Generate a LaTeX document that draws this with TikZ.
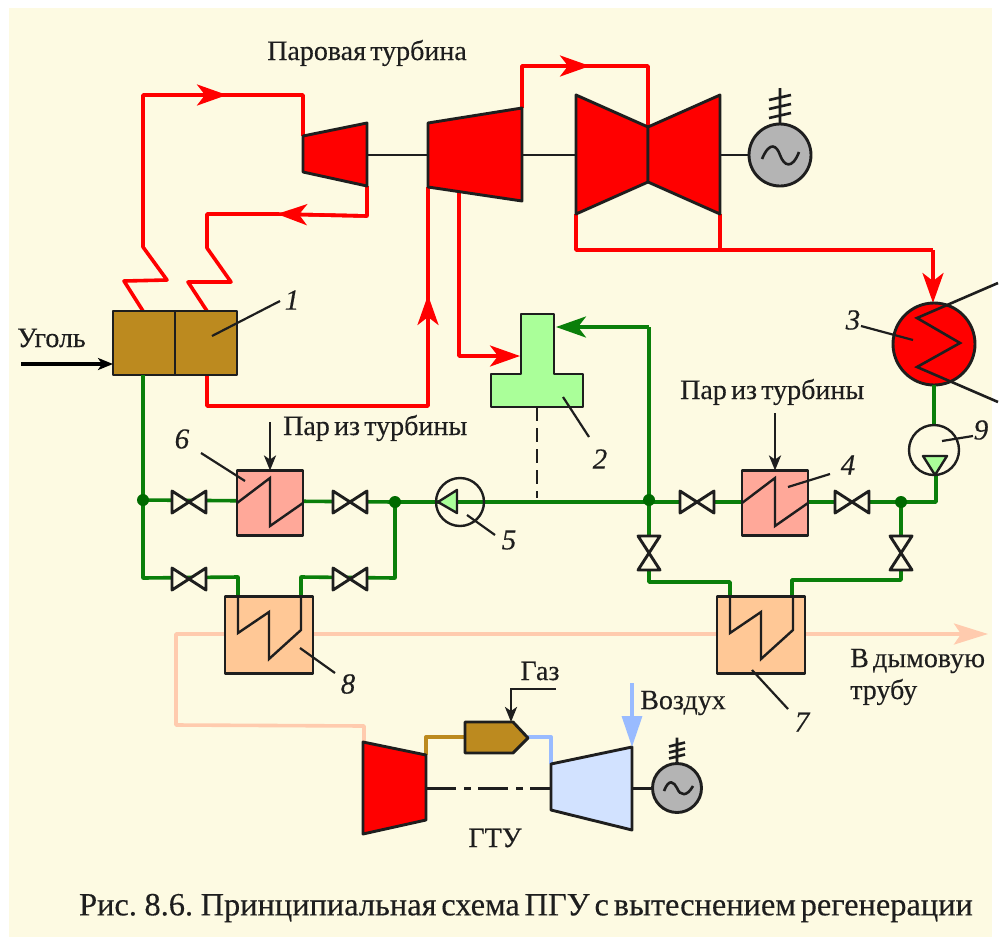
\documentclass[tikz,border=0pt]{standalone}
\usepackage{fontspec}
\setmainfont{Liberation Serif}
\newfontfamily\heavy{Liberation Serif}[FakeBold=0.3]
\newfontfamily\heavycap{Liberation Serif}[FakeBold=0.3,WordSpace=0.6]
\newfontfamily\heavyit{Liberation Serif Italic}[FakeBold=0.4]
\usetikzlibrary{arrows.meta}
\definecolor{cream}{HTML}{FDFAE2}
\definecolor{brownf}{HTML}{BC8A1F}
\definecolor{pipered}{HTML}{FF0000}
\definecolor{pipegreen}{HTML}{0A7F0A}
\definecolor{juncgreen}{HTML}{006A00}
\definecolor{deaer}{HTML}{AAFF99}
\definecolor{salmon}{HTML}{FFA899}
\definecolor{peach}{HTML}{FFC896}
\definecolor{flue}{HTML}{FFCBAE}
\definecolor{airblue}{HTML}{99BBFF}
\definecolor{compblue}{HTML}{D2E2FF}
\definecolor{gengray}{HTML}{B4B4B4}
\definecolor{ink}{HTML}{1E1E1E}
\tikzset{
 redpipe/.style={draw=pipered,line width=3.6pt,line join=round},
 greenpipe/.style={draw=pipegreen,line width=3.6pt,line join=round},
 fluepipe/.style={draw=flue,line width=3.6pt,line join=round},
 brownpipe/.style={draw=brownf,line width=3.4pt,line join=round},
 bluepipe/.style={draw=airblue,line width=3.4pt,line join=round},
 outline/.style={draw=ink,line width=2.9pt,line join=round},
 thin ink/.style={draw=ink,line width=2.4pt},
 leader/.style={draw=ink,line width=2.2pt},
 box/.style={outline,rectangle,inner sep=0pt,outer sep=0pt},
 disc/.style={outline,circle,inner sep=0pt,outer sep=0pt},
 junction/.style={circle,fill=juncgreen,minimum size=12pt,inner sep=0pt},
 lbl/.style={font=\fontsize{28}{32}\selectfont\heavy,inner sep=0pt,text=ink},
 num/.style={font=\fontsize{29}{32}\selectfont\heavyit,inner sep=0pt,text=ink},
 bigred/.style={-{Stealth[length=30pt,width=21pt,inset=8pt]}},
 bigair/.style={-{Stealth[length=31pt,width=20pt,inset=0pt]}},
 blk/.style={-{Stealth[length=15pt,width=12pt,inset=4pt]}},
 valve/.pic={\draw[outline,fill=cream] (-17,-11) -- (17,11) -- (17,-11) -- (-17,11) -- cycle;},
 ground/.pic={\draw[thin ink,line width=2.6pt] (0,0) -- (0,-36)
   (-11,-6) -- (11,-11) (-11,-15) -- (11,-20) (-11,-24) -- (11,-29);},
 smallground/.pic={\draw[thin ink,line width=2.6pt] (0,0) -- (0,-26)
   (-8,-5) -- (8,-9) (-8,-11) -- (8,-15) (-8,-17) -- (8,-21);},
}
\begin{document}
\begin{tikzpicture}[x=1pt,y=-1pt]
\useasboundingbox (0,0) rectangle (1001,937);
\fill[cream] (9,8) rectangle (992,937);

% ---- named points
\coordinate (a1) at (143,311); \coordinate (a2) at (124,281); \coordinate (a3) at (167,280);
\coordinate (a4) at (143,247); \coordinate (a5) at (143,95); \coordinate (a6) at (227,95);
\coordinate (a7) at (303,95);
\coordinate (b1) at (207,311); \coordinate (b2) at (188,282); \coordinate (b3) at (231,282);
\coordinate (b4) at (207,248); \coordinate (b5) at (207,214); \coordinate (b6) at (277,214);
\coordinate (b7) at (367,216);
\coordinate (hp1) at (303,136); \coordinate (hp2) at (367,123); \coordinate (hp3) at (367,186); \coordinate (hp4) at (303,172);
\coordinate (ip1) at (428,123); \coordinate (ip2) at (522,108); \coordinate (ip3) at (522,201); \coordinate (ip4) at (428,187);
\coordinate (lp1) at (576,95); \coordinate (lpt) at (648,127); \coordinate (lpb) at (648,182); \coordinate (lp2) at (576,214);
\coordinate (lp3) at (720,95); \coordinate (lp4) at (720,214);
\coordinate (c1) at (207,375); \coordinate (c2) at (207,406); \coordinate (c3) at (428,406); \coordinate (c4) at (428,295);
\coordinate (d1) at (459,193); \coordinate (d2) at (459,356); \coordinate (d3) at (520,356);
\coordinate (e1) at (522,66); \coordinate (e2) at (590,66); \coordinate (e3) at (648,66);
\coordinate (f1) at (576,250); \coordinate (f2) at (720,250); \coordinate (f3) at (933,250); \coordinate (f4) at (933,303);

% ---- flue gas
\coordinate (g1) at (364,742); \coordinate (g2) at (364,726); \coordinate (g3) at (176,725); \coordinate (g4) at (176,634);
\coordinate (g5) at (988,634);
\draw[fluepipe] (g1) -- (g2) -- (g3) -- (g4) -- (717,634);
\draw[fluepipe,-{Stealth[length=34pt,width=21pt,inset=7pt]}] (717,634) -- (g5);

% ---- steam lines
\draw[redpipe] (a1) -- (a2) -- (a3) -- (a4) -- (a5) -- (a6);
\draw[redpipe,bigred] (a5) -- (a6);
\draw[redpipe] (a6) -- (a7) -- (hp1);
\draw[redpipe] (b1) -- (b2) -- (b3) -- (b4) -- (b5) -- (b6);
\draw[redpipe] (b6) -- (b7) -- (hp3);
\draw[redpipe,bigred] (b7) -- (b6);
\draw[redpipe] (c1) -- (c2) -- (c3) -- (c4) -- (ip4);
\draw[redpipe,bigred] (c3) -- (c4);
\draw[redpipe,bigred] (d1) -- (d2) -- (d3);
\draw[redpipe] (ip2) -- (e1) -- (e3) -- (lpt);
\draw[redpipe,bigred] (e1) -- (e2);
\draw[redpipe] (lp2) -- (f1) -- (f3);
\draw[redpipe] (lp4) -- (f2);
\draw[redpipe,bigred] (f3) -- (f4);

% ---- turbines
\draw[thin ink] (hp2 |- 0,155) -- (ip1 |- 0,155);
\draw[thin ink] (ip2 |- 0,155) -- (lp1 |- 0,155);
\filldraw[outline,fill=pipered] (hp1) -- (hp2) -- (hp3) -- (hp4) -- cycle;
\filldraw[outline,fill=pipered] (ip1) -- (ip2) -- (ip3) -- (ip4) -- cycle;
\filldraw[outline,fill=pipered] (lp1) -- (lpt) -- (lpb) -- (lp2) -- cycle;
\filldraw[outline,fill=pipered] (lp3) -- (lpt) -- (lpb) -- (lp4) -- cycle;

% ---- generator
\node[disc,fill=gengray,minimum size=62pt] (gen1) at (780,155) {};
\draw[thin ink] (lp3 |- gen1) -- (gen1.west);
\pic at (gen1.north) {ground};
\draw[thin ink,line width=2.6pt] (762,159) .. controls (770,140) and (777,146) .. (780,155) .. controls (784,166) and (792,170) .. (799,152);

% ---- boiler
\node[box,fill=brownf,minimum width=124pt,minimum height=64pt] (boiler) at (175,343) {};
\draw[outline] (boiler.north) -- (boiler.south);
\draw[leader] (212,336) -- (280,301);
\node[num] (n1) at (292,300) {1};
\coordinate (coalin) at (21,364);
\draw[draw=black,line width=3.4pt,blk] (coalin) -- (boiler.west |- coalin);
\node[lbl,anchor=west] (ugol) at (17,338) {Уголь};

% ---- condenser
\coordinate (k1) at (998,283); \coordinate (k2) at (917,318); \coordinate (k3) at (960,343); \coordinate (k4) at (917,367); \coordinate (k5) at (998,402);
\node[disc,fill=pipered,minimum size=82pt] (cond) at (934,344) {};
\draw[thin ink,line width=2.6pt] (k1) -- (k2) -- (k3) -- (k4) -- (k5);
\node[num] (n3) at (853,320) {3};
\draw[leader] (861,326) -- (913,340);

% ---- deaerator
\draw[outline,fill=deaer] (521,314) -- (554,314) -- (554,374) -- (583,374) -- (583,407) -- (491,407) -- (491,374) -- (521,374) -- cycle;
\coordinate (dea) at (556,327);
\coordinate (dashend) at (537,498);
\draw[draw=ink,line width=2.8pt,dash pattern=on 14pt off 7pt] (537,407) -- (dashend);
\draw[leader] (563,397) -- (589,437);
\node[num] (n2) at (600,459) {2};

% ---- feedwater
\coordinate (wa) at (143,500); \coordinate (wb) at (143,578); \coordinate (wc) at (395,502); \coordinate (wd) at (395,578);
\coordinate (we) at (649,500); \coordinate (wf) at (901,502); \coordinate (wg) at (936,502);
\coordinate (wh) at (649,582); \coordinate (wi) at (730,582); \coordinate (wj) at (901,580); \coordinate (wk) at (792,580);
\coordinate (wl) at (238,577); \coordinate (wm) at (301,577); \coordinate (wn) at (649,327);
\draw[greenpipe] (boiler.south |- 0,375) ++(-32,0) -- (wb) -- (wl) -- (238,596);
\draw[greenpipe] (wa) -- (wc);
\draw[greenpipe] (301,596) -- (wm) -- (wd) -- (wc);
\draw[greenpipe] (wc) -- (wg) -- (936,475);
\draw[greenpipe] (we) -- (wn);
\draw[greenpipe,bigred] (wn) -- (dea);
\draw[greenpipe] (we) -- (wh) -- (wi) -- (730,596);
\draw[greenpipe] (wf) -- (wj) -- (wk) -- (792,596);
\draw[greenpipe] (cond.south) -- (934,425);

\node[junction] (j1) at (wa) {};
\node[junction] (j2) at (wc) {};
\node[junction] (j3) at (we) {};
\node[junction] (j4) at (wf) {};

% ---- valves
\pic at (189,502) {valve};
\pic at (350,502) {valve};
\pic at (189,579) {valve};
\pic at (350,579) {valve};
\pic at (697,502) {valve};
\pic at (852,502) {valve};
\pic[rotate=90] at (649,553) {valve};
\pic[rotate=90] at (901,553) {valve};

% ---- heaters
\node[box,fill=salmon,minimum width=66pt,minimum height=65pt] (h6) at (270,503) {};
\draw[thin ink] (h6.west) -- (270,478) -- (270,526) -- (h6.east);
\node[box,fill=salmon,minimum width=66pt,minimum height=65pt] (h4) at (775,503) {};
\draw[thin ink] (h4.west) -- (775,478) -- (775,526) -- (h4.east);
\node[box,fill=peach,minimum width=88pt,minimum height=77pt] (h8) at (269,635) {};
\draw[thin ink] (238,596) -- (238,633) -- (269,612) -- (269,659) -- (301,630) -- (301,596);
\node[box,fill=peach,minimum width=88pt,minimum height=77pt] (h7) at (761,635) {};
\draw[thin ink] (730,596) -- (730,633) -- (761,612) -- (761,659) -- (793,630) -- (793,596);

\coordinate (s6) at (270,422); \coordinate (s4) at (775,413);
\draw[thin ink,line width=2.6pt,blk] (s6) -- (h6.north);
\draw[thin ink,line width=2.6pt,blk] (s4) -- (h4.north);
\node[lbl,anchor=west] (par6) at (283,428) {Пар из турбины};
\node[lbl,anchor=west] (par4) at (680,392) {Пар из турбины};
\draw[leader] (201,453) -- (245,481);
\node[num] (n6) at (182,439) {6};
\draw[leader] (788,487) -- (830,474);
\node[num] (n4) at (848,465) {4};
\draw[leader] (300,648) -- (335,673);
\node[num] (n8) at (348,684) {8};
\draw[leader] (752,670) -- (788,709);
\node[num] (n7) at (802,722) {7};

% ---- pumps
\node[disc,minimum size=48pt,line width=2.4pt] (p5) at (460,502) {};
\draw[outline,fill=deaer,line width=2.4pt] (438,502) -- (457,490) -- (457,513) -- cycle;
\draw[leader] (467,515) -- (495,535);
\node[num] (n5) at (509,540) {5};
\node[disc,minimum size=50pt,line width=2.4pt] (p9) at (934,450) {};
\draw[outline,fill=deaer,line width=2.4pt] (935,475) -- (923,456) -- (947,456) -- cycle;
\draw[leader] (942,441) -- (973,436);
\node[num] (n9) at (981,430) {9};

% ---- gas turbine
\coordinate (t1) at (363,742); \coordinate (t2) at (426,755); \coordinate (t3) at (426,820); \coordinate (t4) at (363,834);
\coordinate (q1) at (551,764); \coordinate (q2) at (632,747); \coordinate (q3) at (632,830); \coordinate (q4) at (551,810);
\coordinate (u1) at (426,737); \coordinate (u2) at (551,737);
\draw[brownpipe] (t2) -- (u1) -- (465,737);
\draw[bluepipe] (528,737) -- (u2) -- (q1);
\filldraw[outline,fill=pipered] (t1) -- (t2) -- (t3) -- (t4) -- cycle;
\filldraw[outline,fill=compblue] (q1) -- (q2) -- (q3) -- (q4) -- cycle;
\draw[draw=ink,line width=3pt,dash pattern=on 30pt off 8pt on 7pt off 7pt] (426,788) -- (551,788);
\draw[outline,fill=brownf] (465,722) -- (513,722) -- (528,738) -- (513,753) -- (465,753) -- cycle;
\coordinate (airin) at (632,683);
\draw[bluepipe,bigair] (airin) -- (q2);
\coordinate (gas1) at (556,689); \coordinate (gas2) at (511,689); \coordinate (gas3) at (511,722);
\draw[thin ink,line width=2.6pt,blk] (gas1) -- (gas2) -- (gas3);
\node[disc,fill=gengray,minimum size=49pt] (gen2) at (677,788) {};
\draw[thin ink,line width=3pt] (632,788) -- (gen2.west);
\pic at (gen2.north) {smallground};
\draw[thin ink,line width=2.6pt] (664,791) .. controls (669,778) and (674,782) .. (677,788) .. controls (680,796) and (687,797) .. (693,786);

\node[lbl] (gaz) at (540,671) {Газ};
\node[lbl] (vozd) at (683,703) {Воздух};
\node[lbl] (gtu) at (495,838) {ГТУ};
\node[lbl,anchor=west] (dym) at (850,661) {В дымовую};
\node[lbl,anchor=west] (trub) at (850,692) {трубу};
\node[lbl] (par) at (367,53) {Паровая турбина};
\node[lbl,font=\fontsize{32.4}{36}\selectfont\heavycap] (cap) at (526,908) {Рис. 8.6. Принципиальная схема ПГУ с вытеснением регенерации};
\end{tikzpicture}
\end{document}
